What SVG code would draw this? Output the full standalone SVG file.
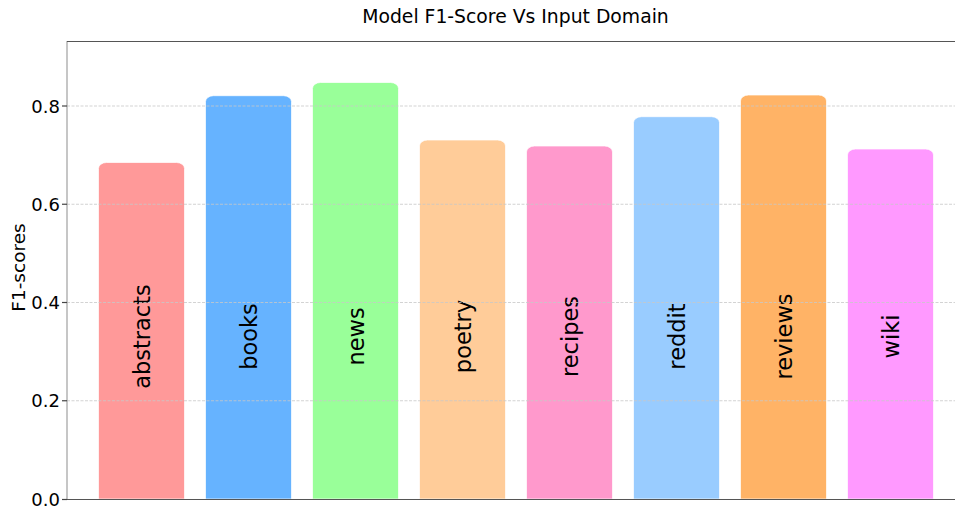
<svg xmlns="http://www.w3.org/2000/svg" width="955" height="510" viewBox="0 0 955 510">
<style>
text{font-family:"DejaVu Sans","Liberation Sans",sans-serif;fill:#000}
.bar{stroke:#fff;stroke-width:1;stroke-opacity:0.7}
.lbl{font-size:22.5px;text-anchor:middle}
.tick{font-size:18px;text-anchor:end;dominant-baseline:central}
.grid{stroke:#c8c8c8;stroke-width:0.8;stroke-dasharray:3 1.5}
</style>
<rect width="955" height="510" fill="#fff"/>
<text x="515.5" y="23" style="font-size:18.8px;text-anchor:middle">Model F1-Score Vs Input Domain</text>
<g id="bars">
<g id="abstracts"><path class="bar" fill="#ff9999" d="M98.5,499 V168.5 A8,6 0 0 1 106.5,162.5 H176.5 A8,6 0 0 1 184.5,168.5 V499 Z"/><text class="lbl" transform="translate(149.5,336.5) rotate(-90)">abstracts</text></g>
<g id="books"><path class="bar" fill="#66b3ff" d="M205.5,499 V101.7 A8,6 0 0 1 213.5,95.7 H283.5 A8,6 0 0 1 291.5,101.7 V499 Z"/><text class="lbl" transform="translate(256.5,336.5) rotate(-90)">books</text></g>
<g id="news"><path class="bar" fill="#99ff99" d="M312.5,499 V88.5 A8,6 0 0 1 320.5,82.5 H390.5 A8,6 0 0 1 398.5,88.5 V499 Z"/><text class="lbl" transform="translate(363.5,336.5) rotate(-90)">news</text></g>
<g id="poetry"><path class="bar" fill="#ffcc99" d="M419.5,499 V146 A8,6 0 0 1 427.5,140 H497.5 A8,6 0 0 1 505.5,146 V499 Z"/><text class="lbl" transform="translate(470.5,336.5) rotate(-90)">poetry</text></g>
<g id="recipes"><path class="bar" fill="#ff99cc" d="M526.5,499 V152 A8,6 0 0 1 534.5,146 H604.5 A8,6 0 0 1 612.5,152 V499 Z"/><text class="lbl" transform="translate(577.5,336.5) rotate(-90)">recipes</text></g>
<g id="reddit"><path class="bar" fill="#99ccff" d="M633.5,499 V122.7 A8,6 0 0 1 641.5,116.7 H711.5 A8,6 0 0 1 719.5,122.7 V499 Z"/><text class="lbl" transform="translate(684.5,336.5) rotate(-90)">reddit</text></g>
<g id="reviews"><path class="bar" fill="#ffb366" d="M740.5,499 V101 A8,6 0 0 1 748.5,95 H818.5 A8,6 0 0 1 826.5,101 V499 Z"/><text class="lbl" transform="translate(791.5,336.5) rotate(-90)">reviews</text></g>
<g id="wiki"><path class="bar" fill="#ff99ff" d="M847.5,499 V155 A8,6 0 0 1 855.5,149 H925.5 A8,6 0 0 1 933.5,155 V499 Z"/><text class="lbl" transform="translate(898.5,336.5) rotate(-90)">wiki</text></g>
</g>
<g id="grid">
<line class="grid" x1="67" y1="400.75" x2="955" y2="400.75"/>
<line class="grid" x1="67" y1="302.5" x2="955" y2="302.5"/>
<line class="grid" x1="67" y1="204.25" x2="955" y2="204.25"/>
<line class="grid" x1="67" y1="106" x2="955" y2="106"/>
</g>
<g id="axes">
<line x1="67" y1="41" x2="67" y2="499" stroke="#a0a0a0" stroke-width="1.2"/>
<line x1="67" y1="41.5" x2="955" y2="41.5" stroke="#555" stroke-width="1.2"/>
<line x1="66" y1="499.5" x2="955" y2="499.5" stroke="#555" stroke-width="1.2"/>
<g stroke="#444" stroke-width="1.2">
<line x1="62" y1="499.5" x2="67" y2="499.5"/>
<line x1="62" y1="400.75" x2="67" y2="400.75"/>
<line x1="62" y1="302.5" x2="67" y2="302.5"/>
<line x1="62" y1="204.25" x2="67" y2="204.25"/>
<line x1="62" y1="106" x2="67" y2="106"/>
</g>
<text class="tick" x="60" y="499">0.0</text>
<text class="tick" x="60" y="400.75">0.2</text>
<text class="tick" x="60" y="302.5">0.4</text>
<text class="tick" x="60" y="204.25">0.6</text>
<text class="tick" x="60" y="106">0.8</text>
<text transform="translate(25,267.5) rotate(-90)" style="font-size:18.5px;text-anchor:middle">F1-scores</text>
</g>
</svg>
